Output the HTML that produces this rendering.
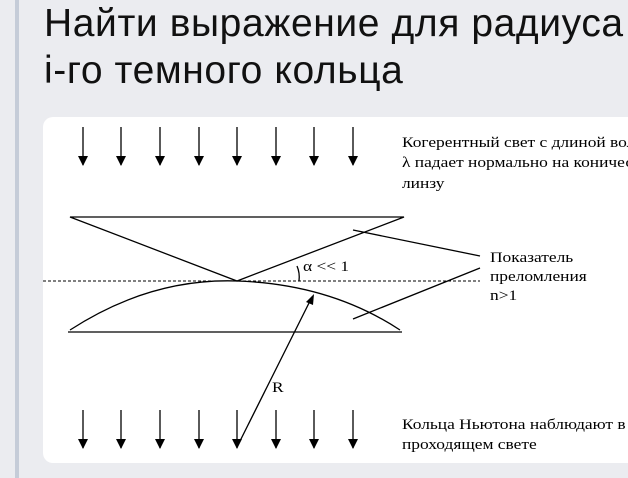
<!DOCTYPE html>
<html><head><meta charset="utf-8"><style>
html,body{margin:0;padding:0;width:628px;height:478px;overflow:hidden;background:#ebecf0;}
.bar{position:absolute;left:15px;top:0;width:4px;height:478px;background:#c5ccd8;}
.t{position:absolute;left:44px;font-family:"Liberation Sans","DejaVu Sans",sans-serif;font-size:39px;letter-spacing:0.6px;color:#111;white-space:nowrap;}
.panel{position:absolute;left:43px;top:117px;width:600px;height:346px;background:#fff;border-radius:10px;}
svg{position:absolute;left:0;top:0;}
</style></head><body>
<div class="bar"></div>
<div class="t" style="top:2px">Найти выражение для радиуса</div>
<div class="t" style="top:49px">i-го темного кольца</div>
<div class="panel"></div>
<svg width="628" height="478" font-family="'Liberation Serif',serif" font-size="15">
<g stroke="#000" stroke-width="1.3" fill="none">
<path d="M83 127V165"/><path d="M121 127V165"/><path d="M160 127V165"/><path d="M199 127V165"/><path d="M237 127V165"/><path d="M276 127V165"/><path d="M314 127V165"/><path d="M353 127V165"/>
<path d="M83 410V448"/><path d="M121 410V448"/><path d="M160 410V448"/><path d="M199 410V448"/><path d="M237 410V448"/><path d="M276 410V448"/><path d="M314 410V448"/><path d="M353 410V448"/>
<path d="M70 217H404L237 281Z"/>
<path d="M43 281H480" stroke-dasharray="3,2" stroke-width="1"/>
<path d="M68 332H402"/>
<path d="M70 330Q150 278 237 281Q330 284 400 330"/>
<path d="M237 447L312 297"/>
<path d="M353 230L480 256"/>
<path d="M353 319L480 268"/>
<path d="M297 266Q300 273 299 281"/>
</g>
<g fill="#000">
<path d="M78 156h10l-5 10z"/><path d="M116 156h10l-5 10z"/><path d="M155 156h10l-5 10z"/><path d="M194 156h10l-5 10z"/><path d="M232 156h10l-5 10z"/><path d="M271 156h10l-5 10z"/><path d="M309 156h10l-5 10z"/><path d="M348 156h10l-5 10z"/>
<path d="M78 439h10l-5 10z"/><path d="M116 439h10l-5 10z"/><path d="M155 439h10l-5 10z"/><path d="M194 439h10l-5 10z"/><path d="M232 439h10l-5 10z"/><path d="M271 439h10l-5 10z"/><path d="M309 439h10l-5 10z"/><path d="M348 439h10l-5 10z"/>
<path d="M314 294l-1 11l-7-3z"/>
<g transform="translate(402 0) scale(1.16 1)">
<text x="0" y="147">Когерентный свет с длиной волны</text>
<text x="0" y="167">λ падает нормально на коническую</text>
<text x="0" y="188">линзу</text>
<text x="0" y="429">Кольца Ньютона наблюдают в</text>
<text x="0" y="449">проходящем свете</text>
</g>
<g transform="translate(490 0) scale(1.16 1)">
<text x="0" y="262">Показатель</text>
<text x="0" y="281">преломления</text>
<text x="0" y="300">n&gt;1</text>
</g>
<g transform="translate(303 0) scale(1.16 1)"><text x="0" y="271">α &lt;&lt; 1</text></g>
<g transform="translate(272 0) scale(1.16 1)"><text x="0" y="392">R</text></g>
</g>
</svg>
</body></html>
